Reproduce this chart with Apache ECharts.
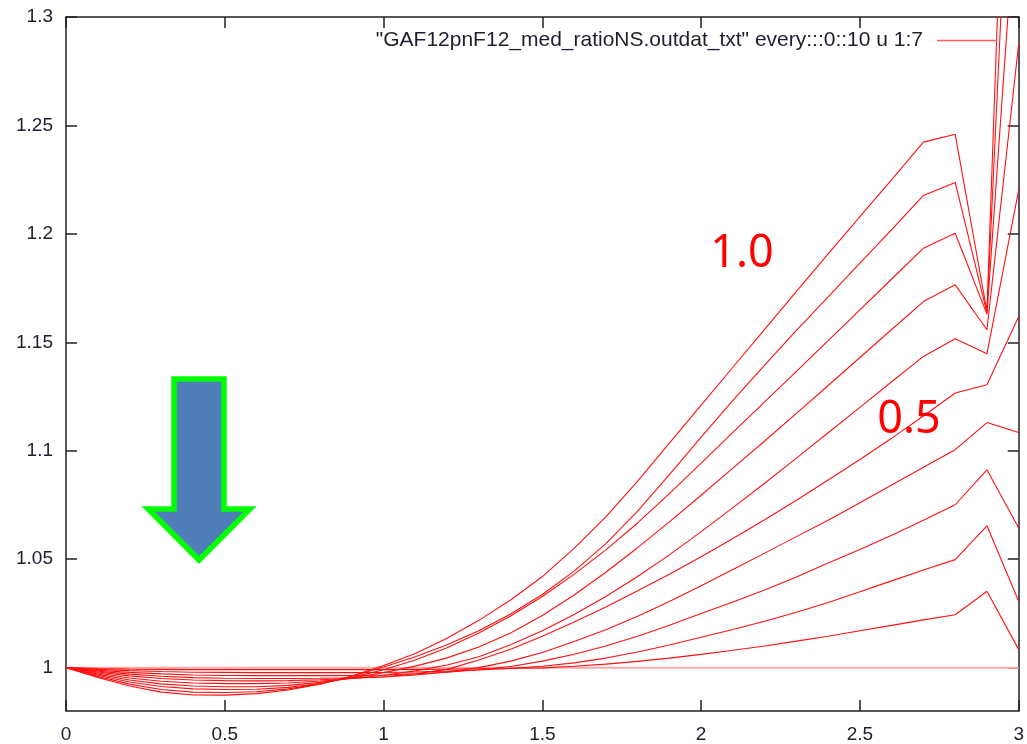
<!DOCTYPE html>
<html>
<head>
<meta charset="utf-8">
<script src="https://cdn.jsdelivr.net/npm/echarts@6/dist/echarts.min.js"></script>
<style>
  html, body { margin: 0; padding: 0; background: #fff; }
  #chart { width: 1027px; height: 744px; }
</style>
</head>
<body>
<div id="chart"></div>
<script>
// x grid of the data file (column 1)
var xValues = [0, 0.1, 0.2, 0.3, 0.4, 0.5, 0.6, 0.7, 0.8, 0.9, 1.0, 1.1, 1.2, 1.3, 1.4, 1.5,
  1.6, 1.7, 1.8, 1.9, 2.0, 2.1, 2.2, 2.3, 2.4, 2.5, 2.6, 2.7, 2.8, 2.9, 3.0];

// one curve per data block (every :::0::10)
var c00 = [1, 1, 1, 1, 1, 1, 1, 1, 1, 1, 1, 1, 1, 1, 1, 1, 1, 1, 1, 1, 1, 1, 1, 1, 1, 1, 1, 1, 1, 1, 1];
var c01 = [1.0000, 0.9996, 0.9993, 0.9992, 0.9991, 0.9991, 0.9991, 0.9991, 0.9991, 0.9991, 0.9991, 0.9992, 0.9993, 0.9995, 0.9997, 0.9999,
  1.0006, 1.0016, 1.0029, 1.0044, 1.0061, 1.0080, 1.0100, 1.0122, 1.0145, 1.0170, 1.0195, 1.0220, 1.0244, 1.0352, 1.0083];
var c02 = [1.0000, 0.9992, 0.9986, 0.9982, 0.9979, 0.9978, 0.9977, 0.9977, 0.9977, 0.9977, 0.9978, 0.9980, 0.9984, 0.9989, 0.9996, 1.0006,
  1.0022, 1.0044, 1.0072, 1.0104, 1.0140, 1.0176, 1.0214, 1.0255, 1.0300, 1.0350, 1.0400, 1.0450, 1.0498, 1.0654, 1.0306];
var c03 = [1.0000, 0.9988, 0.9978, 0.9971, 0.9966, 0.9964, 0.9963, 0.9963, 0.9963, 0.9964, 0.9966, 0.9971, 0.9979, 0.9990, 1.0005, 1.0030,
  1.0062, 1.0100, 1.0145, 1.0195, 1.0250, 1.0303, 1.0358, 1.0418, 1.0482, 1.0545, 1.0610, 1.0680, 1.0751, 1.0912, 1.0644];
var c04 = [1.0000, 0.9984, 0.9970, 0.9960, 0.9954, 0.9951, 0.9950, 0.9950, 0.9951, 0.9953, 0.9957, 0.9966, 0.9980, 1.0000, 1.0030, 1.0070,
  1.0120, 1.0175, 1.0237, 1.0305, 1.0378, 1.0452, 1.0528, 1.0604, 1.0680, 1.0760, 1.0842, 1.0924, 1.1005, 1.1130, 1.1084];
var c05 = [1.0000, 0.9980, 0.9962, 0.9950, 0.9943, 0.9940, 0.9939, 0.9940, 0.9944, 0.9950, 0.9958, 0.9972, 0.9992, 1.0035, 1.0085, 1.0145,
  1.0210, 1.0280, 1.0354, 1.0431, 1.0511, 1.0595, 1.0682, 1.0772, 1.0865, 1.0960, 1.1058, 1.1160, 1.1266, 1.1304, 1.1619];
var c06 = [1.0000, 0.9975, 0.9952, 0.9937, 0.9929, 0.9926, 0.9926, 0.9929, 0.9938, 0.9950, 0.9965, 0.9985, 1.0012, 1.0050, 1.0105, 1.0170,
  1.0245, 1.0328, 1.0420, 1.0520, 1.0627, 1.0738, 1.0850, 1.0966, 1.1083, 1.1200, 1.1318, 1.1435, 1.1516, 1.1447, 1.2203];
var c07 = [1.0000, 0.9970, 0.9943, 0.9925, 0.9915, 0.9912, 0.9912, 0.9918, 0.9932, 0.9952, 0.9977, 1.0007, 1.0045, 1.0095, 1.0160, 1.0240,
  1.0335, 1.0440, 1.0553, 1.0672, 1.0795, 1.0920, 1.1045, 1.1172, 1.1301, 1.1430, 1.1559, 1.1688, 1.1765, 1.1558, 1.2878];
var c08 = [1.0000, 0.9965, 0.9934, 0.9913, 0.9902, 0.9899, 0.9900, 0.9909, 0.9927, 0.9955, 0.9990, 1.0035, 1.0092, 1.0160, 1.0238, 1.0328,
  1.0430, 1.0543, 1.0667, 1.0802, 1.0943, 1.1085, 1.1225, 1.1366, 1.1508, 1.1650, 1.1792, 1.1934, 1.2003, 1.1630, 1.3710];
var c09 = [1.0000, 0.9960, 0.9924, 0.9899, 0.9887, 0.9885, 0.9889, 0.9902, 0.9925, 0.9960, 1.0003, 1.0050, 1.0105, 1.0170, 1.0247, 1.0337,
  1.0445, 1.0572, 1.0722, 1.0890, 1.1063, 1.1232, 1.1395, 1.1555, 1.1710, 1.1865, 1.2020, 1.2177, 1.2237, 1.1636, 1.4756];
var c10 = [1.0000, 0.9955, 0.9915, 0.9887, 0.9874, 0.9873, 0.9880, 0.9897, 0.9924, 0.9961, 1.0010, 1.0065, 1.0135, 1.0218, 1.0312, 1.0420,
  1.0550, 1.0695, 1.0860, 1.1035, 1.1210, 1.1385, 1.1560, 1.1735, 1.1908, 1.2080, 1.2250, 1.2423, 1.2459, 1.1642, 1.5780];

var curves = [c00, c01, c02, c03, c04, c05, c06, c07, c08, c09, c10];

var yTicks = [1, 1.05, 1.1, 1.15, 1.2, 1.25, 1.3];
var seriesName = '"GAF12pnF12_med_ratioNS.outdat_txt" every:::0::10 u 1:7';

var chart = echarts.init(document.getElementById('chart'));

var axisColor = '#222';
var labelFont = { color: '#1e1e30', fontFamily: 'Liberation Sans, Arial, sans-serif', fontSize: 19 };

function pairs(ys) {
  var out = [];
  for (var i = 0; i < xValues.length; i++) {
    out.push([xValues[i], ys[i]]);
  }
  return out;
}

var series = curves.map(function (ys, i) {
  return {
    name: seriesName,
    type: 'line',
    data: pairs(ys),
    showSymbol: false,
    symbol: 'none',
    clip: true,
    lineStyle: i === 0 ? { color: '#ffaaaa', width: 2 } : { color: '#ff1010', width: 1.1 },
    itemStyle: { color: '#ff3030' },
    z: i === 0 ? 1 : 2
  };
});

chart.setOption({
  animation: false,
  backgroundColor: '#fff',
  grid: { left: 66, right: 5, top: 17, bottom: 33 },
  legend: {
    data: [seriesName],
    right: 25,
    top: 25,
    align: 'right',
    icon: 'rect',
    itemWidth: 60,
    itemHeight: 1.5,
    itemStyle: { color: '#ff5a5a' },
    textStyle: {
      color: '#1e1e30',
      fontFamily: 'Liberation Sans, Arial, sans-serif',
      fontSize: 21,
      padding: [0, 9, 0, 0]
    }
  },
  xAxis: [{
    type: 'value',
    min: 0,
    max: 3,
    interval: 0.5,
    axisLine: { onZero: false, lineStyle: { color: axisColor, width: 1.5 } },
    axisTick: { inside: true, length: 11, lineStyle: { color: axisColor, width: 1.5 } },
    axisLabel: Object.assign({ margin: 14 }, labelFont),
    splitLine: { show: false }
  }, {
    type: 'value',
    position: 'top',
    min: 0,
    max: 3,
    interval: 0.5,
    axisLine: { onZero: false, lineStyle: { color: axisColor, width: 1.5 } },
    axisTick: { inside: true, length: 11, lineStyle: { color: axisColor, width: 1.5 } },
    axisLabel: { show: false },
    splitLine: { show: false }
  }],
  yAxis: [{
    type: 'value',
    min: 0.98,
    max: 1.3,
    axisLine: { show: true, onZero: false, lineStyle: { color: axisColor, width: 1.5 } },
    axisTick: { show: true, inside: true, length: 11, customValues: yTicks, lineStyle: { color: axisColor, width: 1.5 } },
    axisLabel: Object.assign({
      margin: 13,
      customValues: yTicks,
      formatter: function (v) { return String(+v.toFixed(2)); }
    }, labelFont),
    splitLine: { show: false }
  }, {
    type: 'value',
    position: 'right',
    min: 0.98,
    max: 1.3,
    axisLine: { show: true, onZero: false, lineStyle: { color: axisColor, width: 1.5 } },
    axisTick: { show: true, inside: true, length: 11, customValues: yTicks, lineStyle: { color: axisColor, width: 1.5 } },
    axisLabel: { show: false },
    splitLine: { show: false }
  }],
  series: series,
  graphic: [{
    type: 'polygon',
    shape: { points: [[174, 379], [224, 379], [224, 509], [250, 509], [199, 560], [148, 509], [174, 509]] },
    style: { fill: '#4f7ebb', stroke: '#00ff00', lineWidth: 5.5 },
    z: 100
  }, {
    type: 'text',
    x: 742,
    y: 254,
    style: { text: '1.0', fill: '#ff0000', font: '45px "Noto Sans", sans-serif', textAlign: 'center', textVerticalAlign: 'middle' },
    z: 100
  }, {
    type: 'text',
    x: 909,
    y: 420,
    style: { text: '0.5', fill: '#ff0000', font: '45px "Noto Sans", sans-serif', textAlign: 'center', textVerticalAlign: 'middle' },
    z: 100
  }]
});
</script>
</body>
</html>
